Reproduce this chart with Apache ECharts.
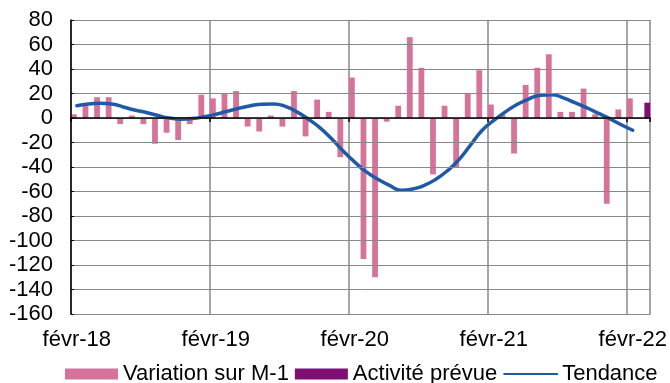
<!DOCTYPE html>
<html>
<head>
<meta charset="utf-8">
<style>
  html, body { margin: 0; padding: 0; background: #fff; }
  #chart { width: 670px; height: 383px; }
</style>
<script src="https://cdn.jsdelivr.net/npm/echarts@6/dist/echarts.min.js"></script>
</head>
<body>
<div id="chart"></div>
<script>
// Monthly categories, févr-18 to mars-22
const months = [
  'févr-18','mars-18','avr-18','mai-18','juin-18','juil-18','août-18','sept-18','oct-18','nov-18','déc-18','janv-19',
  'févr-19','mars-19','avr-19','mai-19','juin-19','juil-19','août-19','sept-19','oct-19','nov-19','déc-19','janv-20',
  'févr-20','mars-20','avr-20','mai-20','juin-20','juil-20','août-20','sept-20','oct-20','nov-20','déc-20','janv-21',
  'févr-21','mars-21','avr-21','mai-21','juin-21','juil-21','août-21','sept-21','oct-21','nov-21','déc-21','janv-22',
  'févr-22','mars-22'
];

// Month-on-month variation
const variation = [
  3, 10, 17, 17, -5, 2, -5, -21, -12, -18, -5, 19,
  16, 20, 22, -7, -11, 2, -7, 22, -15, 15, 5, -32,
  33, -115, -130, -3, 10, 66, 41, -46, 10, -40, 20, 39,
  11, 3, -29, 27, 41, 52, 5, 5, 24, 3, -70, 7,
  16, '-'
];

// Expected activity (last month only)
const prevue = [
  '-','-','-','-','-','-','-','-','-','-','-','-',
  '-','-','-','-','-','-','-','-','-','-','-','-',
  '-','-','-','-','-','-','-','-','-','-','-','-',
  '-','-','-','-','-','-','-','-','-','-','-','-',
  '-', 12.5
];

// Smoothed trend
const tendance = [
  10, 11.5, 12, 11.5, 9, 6.5, 4.5, 2, 0, -1, -0.5, 1,
  3, 5.5, 8, 10, 11.3, 11.5, 9.5, 5, -1, -8, -17, -27,
  -36, -44, -50, -55, -59, -58, -55, -50, -43, -34, -22, -10,
  -2, 5, 11, 15.5, 18.5, 19, 16.5, 12.5, 8.5, 4, -0.5, -5.5,
  -10, '-'
];

const yTicks = { min: -160, max: 80, interval: 20 };

const FONT = '"Liberation Sans", Arial, sans-serif';
const FS = 22;
const GRID_COLOR = '#888888';

const chart = echarts.init(document.getElementById('chart'), null, { renderer: 'canvas' });
chart.setOption({
  animation: false,
  backgroundColor: '#ffffff',
  textStyle: { fontFamily: FONT },
  grid: { left: 71, right: 18, top: 20, bottom: 69, containLabel: false },
  legend: {
    left: 60,
    top: 358,
    itemWidth: 53,
    itemHeight: 11,
    itemGap: 6,
    textStyle: { fontSize: FS, color: '#000', fontFamily: FONT },
    data: [
      { name: 'Variation sur M-1', icon: 'rect' },
      { name: 'Activité prévue', icon: 'rect' },
      { name: 'Tendance', itemStyle: { opacity: 0 } }
    ]
  },
  xAxis: [
    {
      type: 'category',
      data: months,
      position: 'bottom',
      boundaryGap: true,
      axisLine: { onZero: false, show: true, lineStyle: { color: GRID_COLOR, width: 1 } },
      axisTick: { show: false },
      axisLabel: {
        interval: 11,
        margin: 15,
        fontSize: FS,
        color: '#000',
        fontFamily: FONT
      },
      splitLine: { show: true, interval: 11, lineStyle: { color: GRID_COLOR, width: 1.5 } }
    },
    {
      type: 'category',
      data: months,
      position: 'bottom',
      boundaryGap: true,
      z: 4,
      axisLine: { onZero: true, show: true, lineStyle: { color: '#000', width: 1.5 } },
      axisTick: { show: true, interval: 11, length: 4, lineStyle: { color: '#000', width: 1.5 } },
      axisLabel: { show: false },
      splitLine: { show: false }
    }
  ],
  yAxis: {
    type: 'value',
    min: yTicks.min,
    max: yTicks.max,
    interval: yTicks.interval,
    z: 4,
    axisLine: { show: true, lineStyle: { color: '#000', width: 1.5 } },
    axisTick: { show: true, inside: true, length: 3, lineStyle: { color: '#000' } },
    axisLabel: { margin: 18, fontSize: FS, color: '#000', fontFamily: FONT },
    splitLine: { show: true, lineStyle: { color: GRID_COLOR, width: 1 } }
  },
  series: [
    {
      name: 'Variation sur M-1',
      type: 'bar',
      xAxisIndex: 0,
      data: variation,
      barGap: '0%',
      barCategoryGap: '0%',
      itemStyle: { color: '#d5739a' },
      z: 2
    },
    {
      name: 'Activité prévue',
      type: 'bar',
      xAxisIndex: 0,
      data: prevue,
      itemStyle: { color: '#7d0f72' },
      z: 2
    },
    {
      name: 'Tendance',
      type: 'line',
      xAxisIndex: 0,
      data: tendance,
      smooth: 0.5,
      symbol: 'none',
      lineStyle: { color: '#1f5aa8', width: 3.5, cap: 'round' },
      itemStyle: { color: '#1f5aa8' },
      z: 3
    }
  ]
});
</script>
</body>
</html>
